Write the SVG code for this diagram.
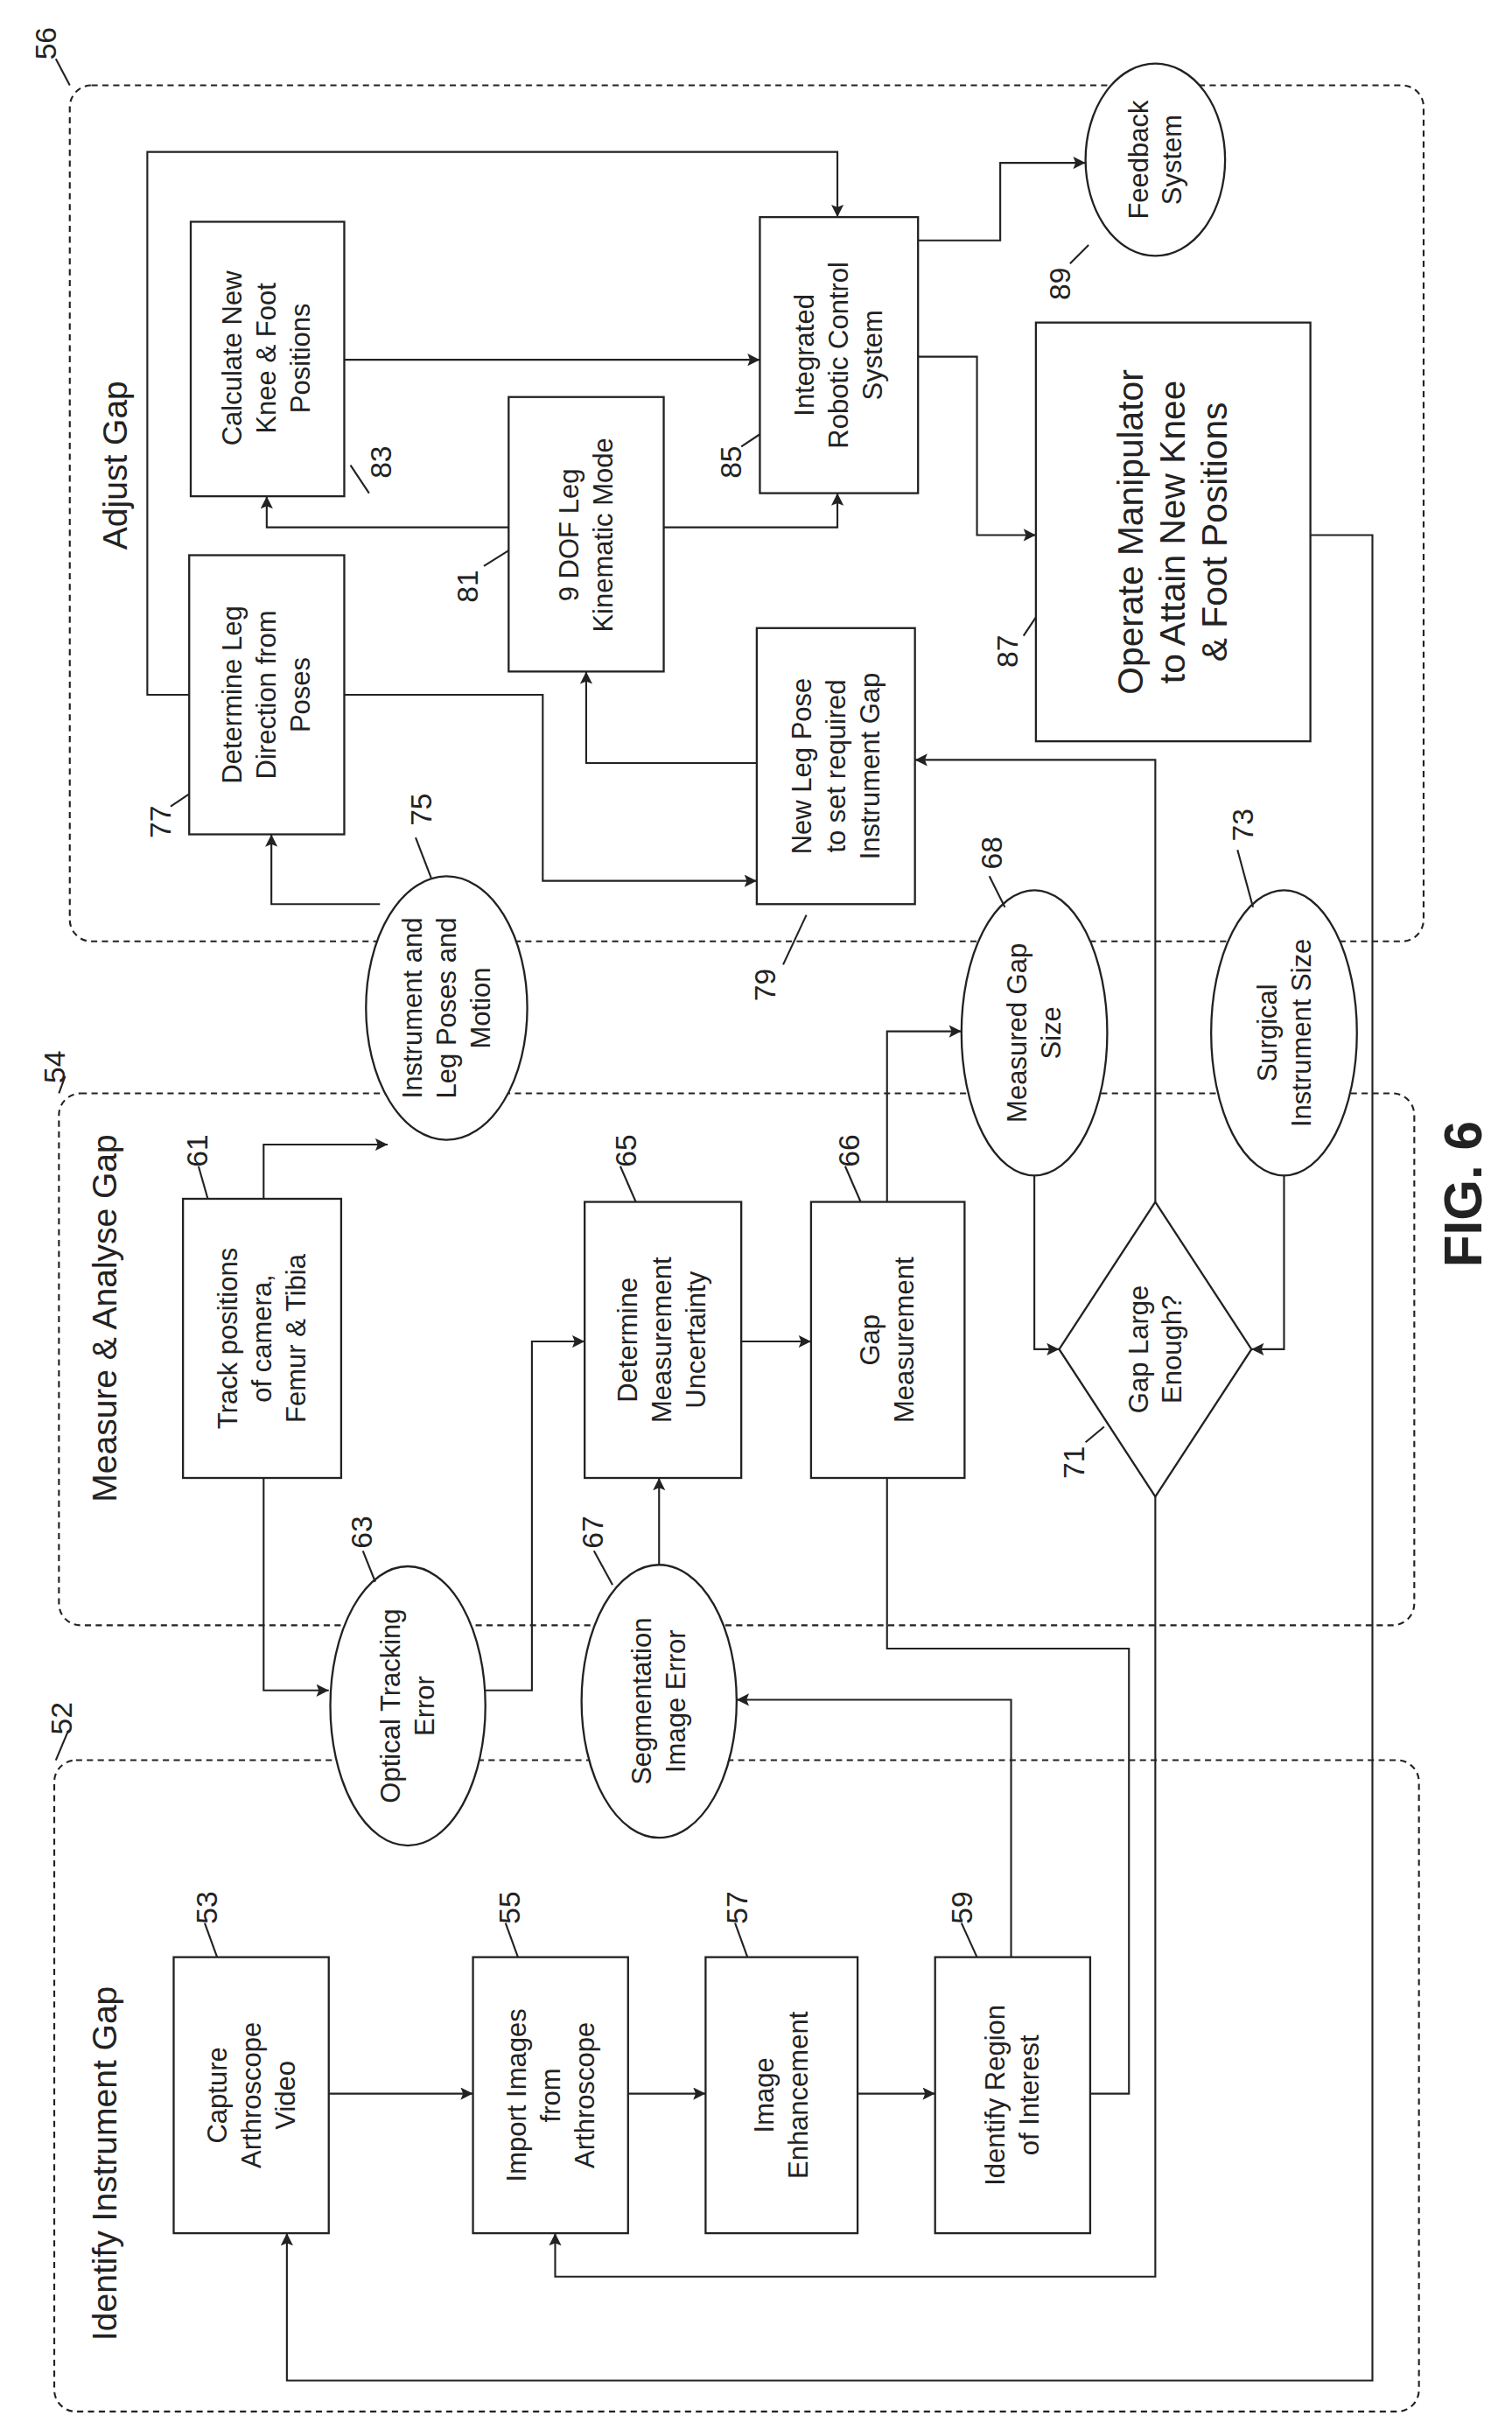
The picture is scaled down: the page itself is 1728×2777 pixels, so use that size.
<svg xmlns="http://www.w3.org/2000/svg" width="1728" height="2777" viewBox="0 0 1728 2777">
<defs>
<marker id="a" viewBox="0 0 10 10" refX="10" refY="5" markerWidth="9" markerHeight="8" orient="auto" markerUnits="userSpaceOnUse"><path d="M0,0 L10,5 L0,10 L2,5 z" fill="#222"/></marker>
<style>
.b{fill:#fff;stroke:#222;stroke-width:1.3}
.g{fill:none;stroke:#222;stroke-width:1.2;stroke-dasharray:4 3}
.c{fill:none;stroke:#222;stroke-width:1.2}
.c2{fill:none;stroke:#222;stroke-width:1.2;marker-end:url(#a)}
text{font-family:"Liberation Sans",Arial,sans-serif;fill:#222;text-anchor:middle}
.t{font-size:17.5px}
.n{font-size:19px}
.h{font-size:22px}
.o{font-size:23px}
</style>
</defs>
<rect width="1728" height="2777" fill="#fff"/>
<g transform="scale(1.7723)">
<g id="groups">
<rect class="g" x="45" y="55" width="873" height="552" rx="14"/>
<rect class="g" x="38" y="705" width="874" height="343" rx="14"/>
<rect class="g" x="35" y="1135" width="880" height="420" rx="14"/>
<text class="n" transform="translate(36,28) rotate(-90)">56</text><path class="c" d="M36,38 L45,55"/>
<text class="n" transform="translate(42,688) rotate(-90)">54</text><path class="c" d="M42,694 L38,705"/>
<text class="n" transform="translate(46,1108) rotate(-90)">52</text><path class="c" d="M44,1116 L36,1135"/>
<text class="h" transform="translate(82,300) rotate(-90)">Adjust Gap</text>
<text class="h" transform="translate(75,850) rotate(-90)">Measure &amp; Analyse Gap</text>
<text class="h" transform="translate(75,1395) rotate(-90)">Identify Instrument Gap</text>
</g>
<g id="connectors">
<path class="c2" d="M122,448 H95 V98 H540 V140"/>
<path class="c2" d="M222,232 H490"/>
<path class="c2" d="M328,340 H172 V320"/>
<path class="c2" d="M428,340 H540 V318"/>
<path class="c2" d="M592,155 H645 V105 H700"/>
<path class="c2" d="M592,230 H630 V345 H668"/>
<path class="c2" d="M222,448 H350 V568 H488"/>
<path class="c2" d="M245,583 H175 V538"/>
<path class="c2" d="M488,492 H378 V433"/>
<path class="c2" d="M745,775 V490 H590"/>
<path class="c2" d="M845,345 H885 V1535 H185 V1440"/>
<path class="c2" d="M745,965 V1468 H358 V1440"/>
<path class="c2" d="M212,1350 H305"/>
<path class="c2" d="M405,1350 H455"/>
<path class="c2" d="M553,1350 H603"/>
<path class="c" d="M572,953 V1063 H728 V1350 H703"/>
<path class="c2" d="M652,1262 V1096 H475"/>
<path class="c2" d="M425,1010 V953"/>
<path class="c2" d="M170,953 V1090 H212"/>
<path class="c2" d="M313,1090 H343 V865 H377"/>
<path class="c2" d="M170,773 V738 H250"/>
<path class="c2" d="M478,865 H523"/>
<path class="c2" d="M572,775 V665 H620"/>
<path class="c2" d="M667,758 V870 H683"/>
<path class="c2" d="M828,758 V870 H807"/>
</g>
<g id="n83"><rect class="b" x="123" y="143" width="99" height="177"/><text class="t" transform="translate(172,231) rotate(-90)"><tspan x="0" y="-16">Calculate New</tspan><tspan x="0" y="6">Knee &amp; Foot</tspan><tspan x="0" y="28">Positions</tspan></text><text class="n" transform="translate(252,298) rotate(-90)">83</text><path class="c" d="M226,300 L238,318"/></g>
<g id="n77"><rect class="b" x="122" y="358" width="100" height="180"/><text class="t" transform="translate(172,448) rotate(-90)"><tspan x="0" y="-16">Determine Leg</tspan><tspan x="0" y="6">Direction from</tspan><tspan x="0" y="28">Poses</tspan></text><text class="n" transform="translate(110,530) rotate(-90)">77</text><path class="c" d="M110,520 L122,512"/></g>
<g id="n81"><rect class="b" x="328" y="256" width="100" height="177"/><text class="t" transform="translate(378,345) rotate(-90)"><tspan x="0" y="-5">9 DOF Leg</tspan><tspan x="0" y="17">Kinematic Mode</tspan></text><text class="n" transform="translate(308,378) rotate(-90)">81</text><path class="c" d="M312,365 L328,355"/></g>
<g id="n85"><rect class="b" x="490" y="140" width="102" height="178"/><text class="t" transform="translate(541,229) rotate(-90)"><tspan x="0" y="-16">Integrated</tspan><tspan x="0" y="6">Robotic Control</tspan><tspan x="0" y="28">System</tspan></text><text class="n" transform="translate(478,298) rotate(-90)">85</text><path class="c" d="M478,288 L490,280"/></g>
<g id="n79"><rect class="b" x="488" y="405" width="102" height="178"/><text class="t" transform="translate(539,494) rotate(-90)"><tspan x="0" y="-16">New Leg Pose</tspan><tspan x="0" y="6">to set required</tspan><tspan x="0" y="28">Instrument Gap</tspan></text><text class="n" transform="translate(500,635) rotate(-90)">79</text><path class="c" d="M505,622 L520,590"/></g>
<g id="n87"><rect class="b" x="668" y="208" width="177" height="270"/><text class="o" transform="translate(756,343) rotate(-90)"><tspan x="0" y="-19">Operate Manipulator</tspan><tspan x="0" y="8">to Attain New Knee</tspan><tspan x="0" y="35">&amp; Foot Positions</tspan></text><text class="n" transform="translate(656,420) rotate(-90)">87</text><path class="c" d="M660,410 L668,398"/></g>
<g id="n89"><ellipse class="b" cx="745" cy="103" rx="45" ry="62"/><text class="t" transform="translate(745,103) rotate(-90)"><tspan x="0" y="-5">Feedback</tspan><tspan x="0" y="17">System</tspan></text><text class="n" transform="translate(690,183) rotate(-90)">89</text><path class="c" d="M690,170 L702,158"/></g>
<g id="n75"><ellipse class="b" cx="288" cy="650" rx="52" ry="85"/><text class="t" transform="translate(288,650) rotate(-90)"><tspan x="0" y="-16">Instrument and</tspan><tspan x="0" y="6">Leg Poses and</tspan><tspan x="0" y="28">Motion</tspan></text><text class="n" transform="translate(278,522) rotate(-90)">75</text><path class="c" d="M268,540 L278,566"/></g>
<g id="n61"><rect class="b" x="118" y="773" width="102" height="180"/><text class="t" transform="translate(169,863) rotate(-90)"><tspan x="0" y="-16">Track positions</tspan><tspan x="0" y="6">of camera,</tspan><tspan x="0" y="28">Femur &amp; Tibia</tspan></text><text class="n" transform="translate(134,742) rotate(-90)">61</text><path class="c" d="M128,752 L134,773"/></g>
<g id="n65"><rect class="b" x="377" y="775" width="101" height="178"/><text class="t" transform="translate(427,864) rotate(-90)"><tspan x="0" y="-16">Determine</tspan><tspan x="0" y="6">Measurement</tspan><tspan x="0" y="28">Uncertainty</tspan></text><text class="n" transform="translate(410,742) rotate(-90)">65</text><path class="c" d="M400,752 L410,775"/></g>
<g id="n66"><rect class="b" x="523" y="775" width="99" height="178"/><text class="t" transform="translate(572,864) rotate(-90)"><tspan x="0" y="-5">Gap</tspan><tspan x="0" y="17">Measurement</tspan></text><text class="n" transform="translate(554,742) rotate(-90)">66</text><path class="c" d="M545,752 L555,775"/></g>
<g id="n68"><ellipse class="b" cx="667" cy="666" rx="47" ry="92"/><text class="t" transform="translate(667,666) rotate(-90)"><tspan x="0" y="-5">Measured Gap</tspan><tspan x="0" y="17">Size</tspan></text><text class="n" transform="translate(646,550) rotate(-90)">68</text><path class="c" d="M638,565 L648,585"/></g>
<g id="n73"><ellipse class="b" cx="828" cy="666" rx="47" ry="92"/><text class="t" transform="translate(828,666) rotate(-90)"><tspan x="0" y="-5">Surgical</tspan><tspan x="0" y="17">Instrument Size</tspan></text><text class="n" transform="translate(808,532) rotate(-90)">73</text><path class="c" d="M798,548 L808,585"/></g>
<g id="n71"><polygon class="b" points="745,775 807,870 745,965 683,870"/><text class="t" transform="translate(745,870) rotate(-90)"><tspan x="0" y="-5">Gap Large</tspan><tspan x="0" y="17">Enough?</tspan></text><text class="n" transform="translate(699,943) rotate(-90)">71</text><path class="c" d="M700,930 L712,920"/></g>
<g id="n63"><ellipse class="b" cx="263" cy="1100" rx="50" ry="90"/><text class="t" transform="translate(263,1100) rotate(-90)"><tspan x="0" y="-5">Optical Tracking</tspan><tspan x="0" y="17">Error</tspan></text><text class="n" transform="translate(240,988) rotate(-90)">63</text><path class="c" d="M234,1000 L242,1020"/></g>
<g id="n67"><ellipse class="b" cx="425" cy="1097" rx="50" ry="88"/><text class="t" transform="translate(425,1097) rotate(-90)"><tspan x="0" y="-5">Segmentation</tspan><tspan x="0" y="17">Image Error</tspan></text><text class="n" transform="translate(389,988) rotate(-90)">67</text><path class="c" d="M383,1000 L395,1022"/></g>
<g id="n53"><rect class="b" x="112" y="1262" width="100" height="178"/><text class="t" transform="translate(162,1351) rotate(-90)"><tspan x="0" y="-16">Capture</tspan><tspan x="0" y="6">Arthroscope</tspan><tspan x="0" y="28">Video</tspan></text><text class="n" transform="translate(140,1230) rotate(-90)">53</text><path class="c" d="M132,1240 L140,1262"/></g>
<g id="n55"><rect class="b" x="305" y="1262" width="100" height="178"/><text class="t" transform="translate(355,1351) rotate(-90)"><tspan x="0" y="-16">Import Images</tspan><tspan x="0" y="6">from</tspan><tspan x="0" y="28">Arthroscope</tspan></text><text class="n" transform="translate(335,1230) rotate(-90)">55</text><path class="c" d="M326,1240 L334,1262"/></g>
<g id="n57"><rect class="b" x="455" y="1262" width="98" height="178"/><text class="t" transform="translate(504,1351) rotate(-90)"><tspan x="0" y="-5">Image</tspan><tspan x="0" y="17">Enhancement</tspan></text><text class="n" transform="translate(482,1230) rotate(-90)">57</text><path class="c" d="M474,1240 L482,1262"/></g>
<g id="n59"><rect class="b" x="603" y="1262" width="100" height="178"/><text class="t" transform="translate(653,1351) rotate(-90)"><tspan x="0" y="-5">Identify Region</tspan><tspan x="0" y="17">of Interest</tspan></text><text class="n" transform="translate(627,1230) rotate(-90)">59</text><path class="c" d="M620,1240 L630,1262"/></g>
<text transform="translate(955,770) rotate(-90)" style="font-size:34px;font-weight:bold">FIG. 6</text>
</g>
</svg>
